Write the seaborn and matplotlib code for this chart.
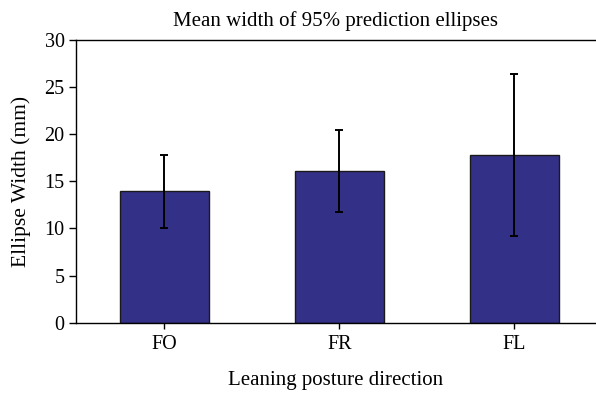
import matplotlib
matplotlib.use("Agg")
import matplotlib.pyplot as plt
import seaborn as sns
import pandas as pd

categories = ["FO", "FR", "FL"]
means = [13.95, 16.1, 17.8]
sds = [3.85, 4.35, 8.6]
yticks = [0, 5, 10, 15, 20, 25, 30]

sns.set_theme(style="white")
plt.rcParams["font.family"] = ["Liberation Serif", "DejaVu Serif"]

df = pd.DataFrame({"direction": categories, "width": means})

fig = plt.figure(figsize=(5.96, 3.94), dpi=100)
ax = fig.add_axes([75.7 / 596, (394 - 322.7) / 394, 1 - 75.7 / 596, (322.7 - 40) / 394])

sns.barplot(data=df, x="direction", y="width", color="#333087", saturation=1,
            width=0.51, edgecolor="#1a1a1a", linewidth=1.0, ax=ax, errorbar=None)
ax.errorbar(range(len(categories)), means, yerr=sds, fmt="none", ecolor="black",
            elinewidth=1.4, capsize=2.6, capthick=1.4, zorder=5)

fs = 14.5
ax.set_ylim(0, 30)
ax.set_xlim(-0.506, 2.467)
ax.set_yticks(yticks)
ax.set_yticklabels([str(t) for t in yticks], fontsize=fs)
ax.tick_params(axis="x", labelsize=fs, length=4, width=1, direction="out", bottom=True, pad=5, colors="black")
ax.tick_params(axis="y", length=5, width=1, direction="out", left=True, pad=3, colors="black")
for s in ["left", "top", "bottom"]:
    ax.spines[s].set_visible(True)
    ax.spines[s].set_color("black")
    ax.spines[s].set_linewidth(1.0)
ax.spines["right"].set_visible(False)
ax.set_xlabel("Leaning posture direction", fontsize=15, labelpad=12, color="black")
ax.set_ylabel("Ellipse Width (mm)", fontsize=15.5, labelpad=10, color="black")
ax.set_title("Mean width of 95% prediction ellipses", fontsize=15, pad=10, color="black")

fig.savefig("out.png", dpi=100)
